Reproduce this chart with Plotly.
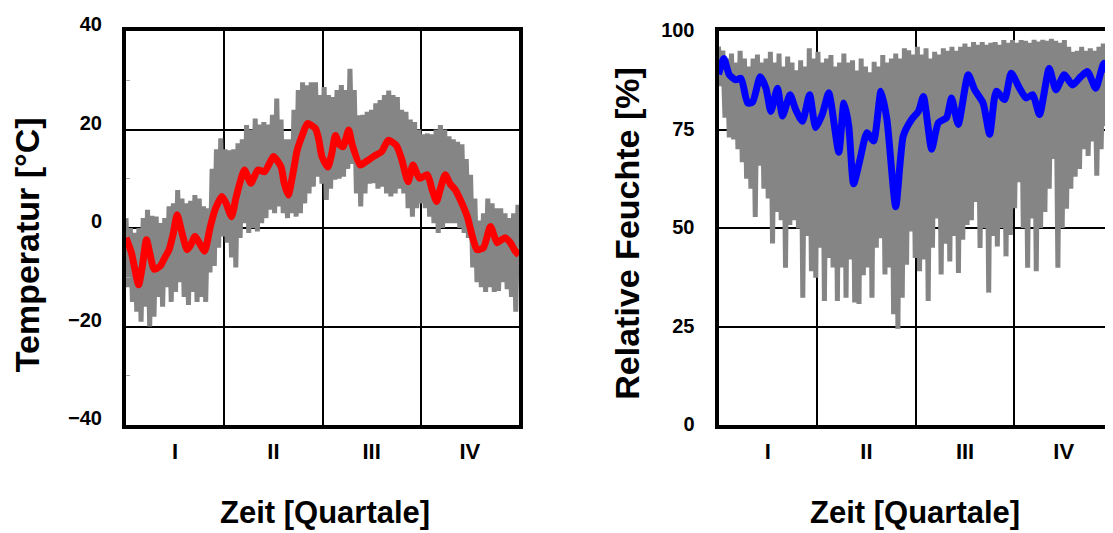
import plotly.graph_objects as go

# ---------------- data ----------------
quarter_labels = ["I", "II", "III", "IV"]
quarter_centers = [45.625, 136.875, 228.125, 319.375]

# raw (hourly) temperature band: local maxima every 4 days (day 0..364) and minima (day 2..362)
temp_hi = [2, 0, -1, 0, 2, 3.7, 2.5, 2.3, 1, 2,
           4.4, 5, 7.7, 6, 5, 5.5, 6.7, 6, 4.4, 4,
           12, 16, 18.2, 16, 15.8, 16, 17.2, 18, 20.9, 20,
           22.2, 21, 21.5, 21, 23, 26.3, 22, 18, 18, 24,
           28, 29.6, 29, 29.6, 29.6, 27, 28.6, 27, 26.6, 28,
           29, 28, 32.3, 28, 22.9, 23, 23.6, 24, 25.3, 26,
           27, 27.9, 27, 26.6, 24, 23.6, 22, 21.5, 20, 19,
           19.2, 19, 20, 20.9, 20, 18.6, 18, 17.5, 17, 14,
           10.8, 6, 1.5, 3, 6, 5, 4, 4, 3, 2,
           3, 4.7]
temp_lo = [-12, -15, -17, -19, -16, -20, -18, -14, -16, -12,
           -15, -13, -11, -14, -15.6, -13, -15, -14, -15, -9,
           -7.7, -4, -1.7, -3, -6, -8, -2, 1, -1, 0,
           -0.7, 1, 2, 3.7, 3, 4.4, 3, 2, 3, 2.3,
           3, 5, 7, 8.4, 10.4, 9, 5.7, 8, 9.8, 10,
           10.4, 12, 13, 7, 4.4, 7, 9, 9.1, 8, 8.4,
           7, 6.4, 7, 8, 7, 4, 2.3, 4, 5, 4,
           2.3, 1, -1, 0, 1, 1, 1, 0, -1, -2,
           -8, -11, -12, -13, -12, -13, -12.8, -11, -12.4, -14,
           -17]

# smoothed temperature
temp_days = [0, 5, 11.7, 15, 19, 23, 26, 32, 36, 40,
             44, 47.5, 52, 56.7, 60, 64, 68, 73, 78, 82.7,
             89, 93, 98, 102, 105.7, 110, 116, 122.5, 128.6, 133,
             137, 144, 147, 150.7, 155, 159, 164, 168.5, 176, 179,
             182, 187.5, 191, 194.5, 198, 201.5, 206.8, 210, 217.5, 223,
             229.7, 237.4, 243.5, 251, 256, 262, 266.5, 272.6, 280, 284,
             288.5, 292, 296.5, 301, 306, 312, 317, 322, 326, 332,
             338.5, 344.6, 348, 352, 357, 361.5, 365]
temp_smooth = [-2, -5, -11.5, -8, -2.4, -6, -8.4, -7.7, -6, -4.4,
               -1, 2.7, -1, -4.4, -3.5, -1.7, -3, -4.7, 0, 3.7,
               6.4, 5, 2.3, 6, 9.1, 11.8, 9.1, 11.8, 11.4, 13,
               14.5, 12.4, 9, 6.7, 11, 15.8, 19, 21.2, 20.2, 18,
               14.5, 12.4, 15, 18.8, 17, 16.5, 19.9, 17, 12.8, 13.5,
               14.5, 15.5, 17.8, 16.8, 14, 9.4, 12.8, 10.1, 10.8, 8,
               5.4, 8, 10.8, 9, 7.7, 5, 2.3, -2, -4.4, -4,
               0.3, -3, -2.5, -2, -3, -4.7, -5.5]

# raw humidity band
hum_hi = [96, 95, 93, 94.3, 92, 95, 93, 91, 93, 94,
          92, 93, 94.7, 92, 94.3, 91, 93.5, 92, 90, 92.6,
          91, 95.6, 93, 94.7, 92, 93, 93.9, 91, 92, 94.3,
          92, 92.6, 90, 93, 91, 89.5, 92.2, 91, 93.9, 92,
          93, 94.3, 93, 95.6, 95.1, 94, 96, 94, 95.6, 93,
          94.7, 94, 95.6, 95, 96, 95, 96, 96.8, 96, 97.2,
          96.5, 97.2, 96.5, 97, 97.2, 96.5, 97.7, 97, 97.7, 97,
          97.7, 97.5, 97, 97.8, 97.3, 97.8, 97.5, 98, 97.5, 97,
          97.7, 96, 94.7, 95, 96, 95, 95.6, 95, 96, 96.8,
          96, 97]
hum_lo = [86, 78, 73, 72.5, 70, 66.7, 62.5, 60, 52.8, 65.8,
          60, 57.5, 46.1, 54.1, 52, 39.9, 50.8, 52, 49.9, 32.3,
          48, 39, 37.4, 45, 31.5, 42.4, 40, 31.5, 40, 32.3,
          42, 31.1, 30.7, 38, 40, 32.3, 45, 47.4, 38.2, 40,
          28.1, 24.4, 32.3, 40.7, 49.1, 42.4, 39, 42, 31.5, 45,
          52.4, 38.2, 46, 41.5, 48, 38.6, 47, 50.8, 52, 56.6,
          44.9, 50, 33.6, 48, 45.3, 50, 42.8, 48.2, 55, 61.6,
          50, 39.9, 52.4, 39, 50, 54.1, 60, 67.5, 39.9, 50,
          54.9, 60, 63, 65, 70, 68.3, 72, 63.3, 70, 75.9,
          65]

# smoothed humidity
hum_days = [0, 4.9, 10, 16, 20.8, 27, 31.6, 38.6, 43.9, 48.5,
            54.6, 59.2, 66.2, 71.5, 77.6, 84.3, 89.9, 96, 102, 111.3,
            116, 120.5, 125, 131, 137.4, 143.5, 150.3, 155.8, 164, 171,
            178.8, 185, 189.6, 197.2, 203.4, 211, 215.6, 221.8, 231, 237,
            244.8, 250.9, 257, 264.7, 270.8, 278.5, 284.6, 290.8, 297, 306,
            312.2, 319.9, 327.6, 335.2, 341.4, 349, 356.7, 362.8, 365]
hum_smooth = [89, 93, 88.9, 87.6, 88, 81.7, 82, 88.4, 85.5, 79.6,
              85.5, 78.4, 83.8, 80, 77.1, 83.8, 75.5, 78.8, 84.3, 69.2,
              81.7, 75.9, 61.2, 67.5, 74.2, 72.1, 84.7, 77.6, 55.4, 73.4,
              77.6, 79.6, 83.4, 70, 76.7, 78, 83, 76.3, 88.9, 85.1,
              81.7, 73.8, 84.7, 82.6, 89.3, 85.5, 83, 83.8, 78.8, 90.5,
              85.1, 88.9, 86.3, 88.4, 89.7, 85.5, 91.8, 88.4, 89]

STEP = 4  # days between band maxima


def band(hi, lo):
    xs, ys = [], []
    for i, h in enumerate(hi):
        xs.append(i * STEP)
        ys.append(h)
        if i < len(lo):
            xs.append(i * STEP + STEP / 2)
            ys.append(lo[i])
    return xs, ys


# ---------------- layout geometry ----------------
# The page adds an 8 px body margin, so the figure is laid out in page pixels minus 8.
OFF = 8
W, H = 1113 - OFF, 533 - OFF
PLOT_TOP, PLOT_BOTTOM = 31, 425.5          # page pixels
MT = PLOT_TOP - OFF
MB = H - (PLOT_BOTTOM - OFF)
PH = H - MT - MB


def px(x):
    return (x - OFF) / W


def py(y):
    return ((PLOT_BOTTOM - OFF) - (y - OFF)) / PH


FONT = "Liberation Sans, Arial, Helvetica, sans-serif"
GRAY = "#858585"

fig = go.Figure()
tx, ty = band(temp_hi, temp_lo)
fig.add_trace(go.Scatter(x=tx, y=ty, mode="lines", line=dict(color=GRAY, width=5),
                         xaxis="x", yaxis="y", hoverinfo="skip"))
fig.add_trace(go.Scatter(x=temp_days, y=temp_smooth, mode="lines",
                         line=dict(color="#ff0000", width=7, shape="spline", smoothing=0.6),
                         xaxis="x", yaxis="y"))
hx, hy = band(hum_hi, hum_lo)
fig.add_trace(go.Scatter(x=hx, y=hy, mode="lines", line=dict(color=GRAY, width=5),
                         xaxis="x2", yaxis="y2", hoverinfo="skip"))
fig.add_trace(go.Scatter(x=hum_days, y=hum_smooth, mode="lines",
                         line=dict(color="#0000ff", width=7, shape="spline", smoothing=0.6),
                         xaxis="x2", yaxis="y2"))

tickfont = dict(family=FONT, size=20, color="black", weight="bold")


def xaxis_cfg(domain, anchor):
    return dict(domain=domain, anchor=anchor, range=[0, 365],
                tickmode="array", tickvals=quarter_centers, ticktext=quarter_labels,
                showgrid=False, zeroline=False, ticks="",
                tickfont=dict(family=FONT, size=22, color="black", weight="bold"),
                ticklabelstandoff=4,
                minor=dict(tickmode="linear", tick0=0, dtick=91.25, showgrid=True,
                           gridcolor="black", gridwidth=2, ticks=""),
                showline=True, linecolor="black", linewidth=4, mirror=True)


fig.update_layout(
    width=W, height=H,
    margin=dict(l=0, r=0, t=MT, b=MB, pad=0),
    paper_bgcolor="white", plot_bgcolor="white",
    showlegend=False,
    xaxis=xaxis_cfg([px(126), px(519)], "y"),
    xaxis2=xaxis_cfg([px(718.5), 1.0], "y2"),
    yaxis=dict(domain=[0, 1], anchor="x", range=[-40, 40],
               tickmode="array", tickvals=[-40, -20, 0, 20, 40],
               showgrid=True, gridcolor="black", gridwidth=2, zeroline=False,
               ticks="", tickfont=tickfont, ticklabelshift=-7, ticklabelstandoff=16,
               minor=dict(tickmode="linear", tick0=-30, dtick=20, ticks="inside",
                          ticklen=4, tickcolor="#aaaaaa", showgrid=False),
               showline=True, linecolor="black", linewidth=4, mirror=True),
    yaxis2=dict(domain=[0, 1], anchor="x2", range=[0, 100],
                tickmode="array", tickvals=[0, 25, 50, 75, 100],
                showgrid=True, gridcolor="black", gridwidth=2, zeroline=False,
                ticks="", tickfont=tickfont, ticklabelshift=-1, ticklabelstandoff=16,
                showline=True, linecolor="black", linewidth=4, mirror=False),
    annotations=[
        dict(text="Zeit [Quartale]", x=px(325), y=py(513), xref="paper", yref="paper",
             showarrow=False, xanchor="center", yanchor="middle",
             font=dict(family=FONT, size=31, color="black", weight="bold")),
        dict(text="Zeit [Quartale]", x=px(915), y=py(513), xref="paper", yref="paper",
             showarrow=False, xanchor="center", yanchor="middle",
             font=dict(family=FONT, size=31, color="black", weight="bold")),
        dict(text="Temperatur [°C]", x=px(27), y=py(245.5), xref="paper", yref="paper",
             showarrow=False, xanchor="center", yanchor="middle", textangle=-90,
             font=dict(family=FONT, size=34, color="black", weight="bold")),
        dict(text="Relative Feuchte [%]", x=px(627), y=py(234), xref="paper", yref="paper",
             showarrow=False, xanchor="center", yanchor="middle", textangle=-90,
             font=dict(family=FONT, size=34, color="black", weight="bold")),
    ],
)

fig.write_html("out.html")
